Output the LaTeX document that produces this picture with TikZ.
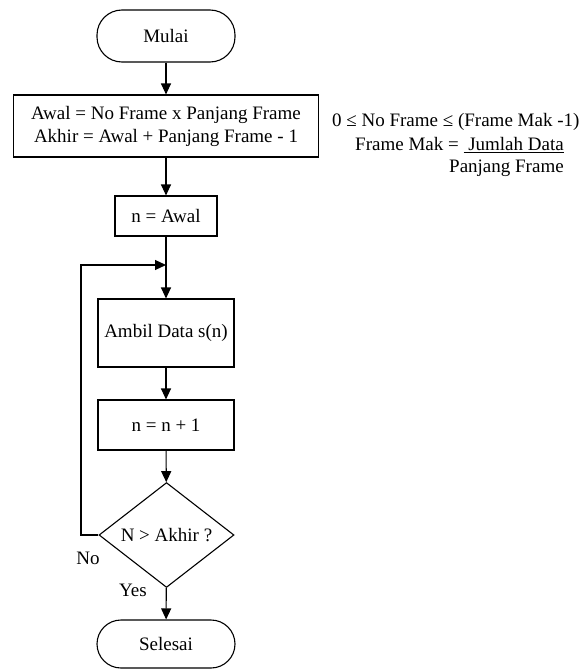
\documentclass[tikz,border=0pt]{standalone}
\usepackage{fontspec}
\setmainfont{Liberation Serif}
\usetikzlibrary{arrows.meta,shapes.geometric}
\begin{document}
\begin{tikzpicture}[x=1pt,y=-1pt,
  every node/.style={font=\fontsize{19}{23}\selectfont, inner sep=0pt},
  line/.style={draw=black, line width=1.1pt},
  arr/.style={line, -{Triangle[length=11pt,width=10pt]}},
  term/.style={line, rectangle, rounded corners=25pt, minimum width=138pt, minimum height=52pt},
  proc/.style={line, rectangle, minimum width=136pt},
  dec/.style={line, diamond, minimum width=135pt, minimum height=100pt}]
\useasboundingbox (0,0) rectangle (587,669);
\fill[white] (0,0) rectangle (587,669);
\node[term] (start) at (166,36) {Mulai};
\node[proc, minimum width=305pt, minimum height=62pt, align=center] (init) at (166,126)
  {Awal = No Frame x Panjang Frame\\Akhir = Awal + Panjang Frame - 1};
\node[anchor=west] (note1) at (332,122) {0 ≤ No Frame ≤ (Frame Mak -1)};
\node[anchor=west] (note2) at (355,145) {Frame Mak = \underline{\ Jumlah Data}};
\node[anchor=west] (note3) at (449,168) {Panjang Frame};
\node[proc, minimum width=102pt, minimum height=40pt] (nawal) at (166,216) {n = Awal};
\coordinate (join) at (166,265);
\node[proc, minimum height=68pt] (ambil) at (166,333) {Ambil Data s(n)};
\node[proc, minimum height=50pt] (inc) at (166,425) {n = n + 1};
\node[dec] (cond) at (166.5,535) {N > Akhir ?};
\node[term, minimum height=48pt, rounded corners=24pt] (stop) at (166,644) {Selesai};
\coordinate (lx) at (81,535);
\coordinate (ly) at (81,265);
\node (no) at (88,558) {No};
\node (yes) at (133,590) {Yes};
\draw[arr] (start) -- (init);
\draw[arr] (init) -- (nawal);
\draw[line] (nawal) -- (join);
\draw[arr] (join) -- (ambil);
\draw[arr] (ambil) -- (inc);
\draw[arr] (inc) -- (cond);
\draw[arr] (cond) -- (stop);
\draw[arr] (cond.west) -- (lx) -- (ly) -- (join);
\end{tikzpicture}
\end{document}
